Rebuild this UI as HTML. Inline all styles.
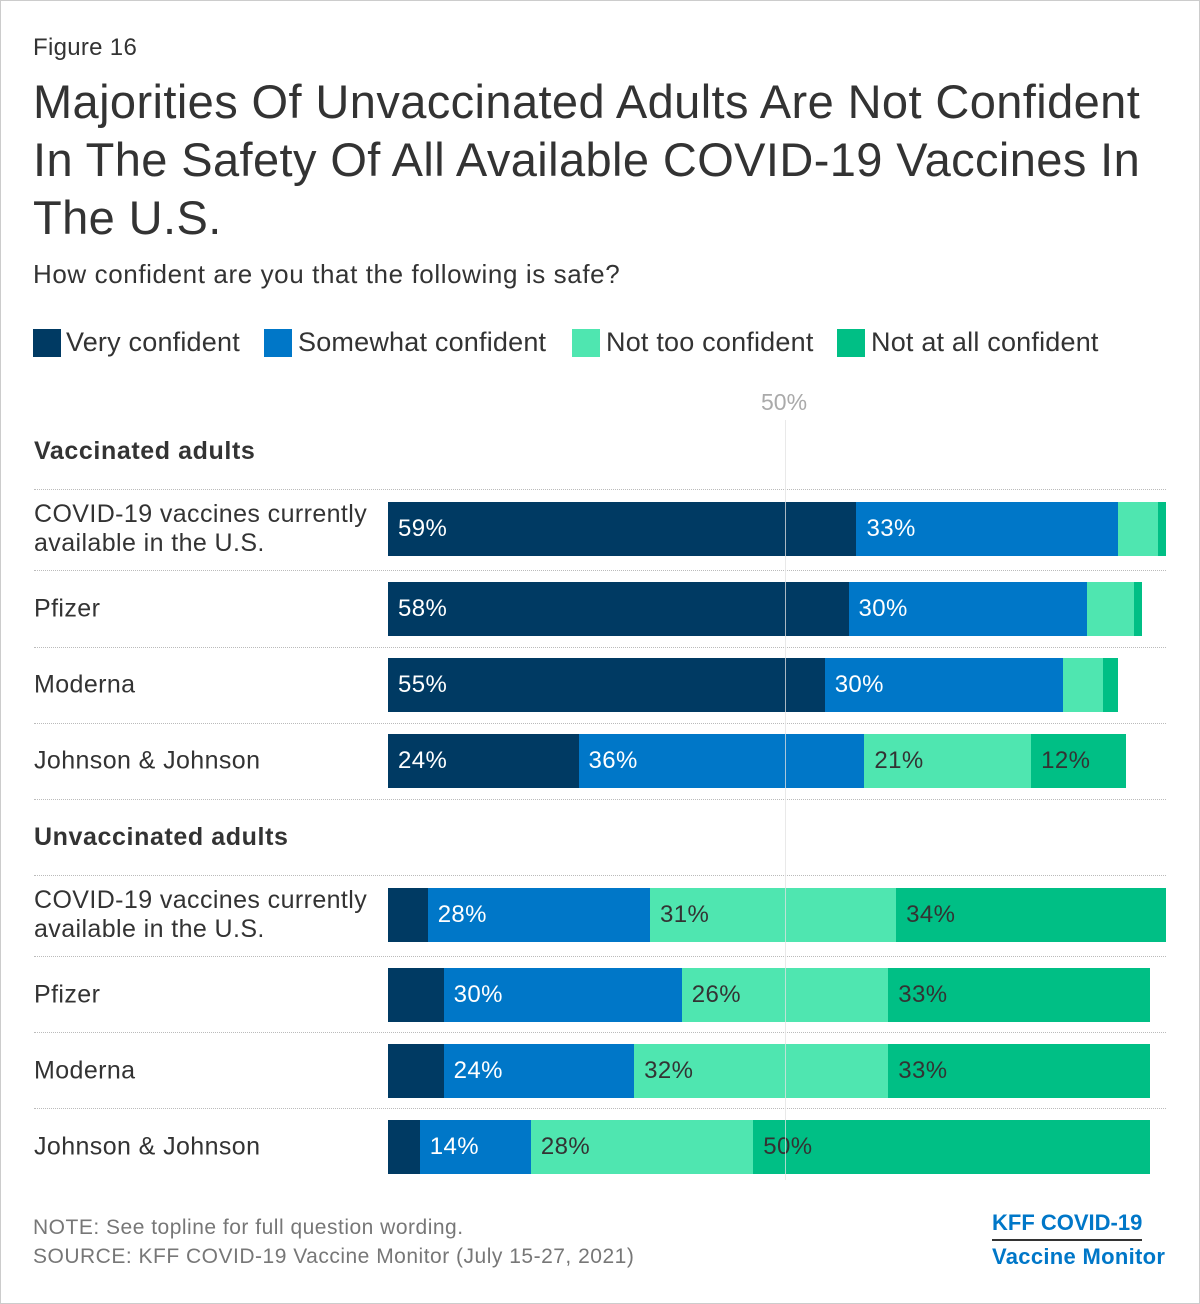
<!DOCTYPE html>
<html><head><meta charset="utf-8"><style>
body{margin:0;width:1200px;height:1304px;background:#fff;font-family:"Liberation Sans",sans-serif;position:relative;overflow:hidden}
.frame{position:absolute;left:0;top:0;width:1198px;height:1302px;border:1px solid #ccc}
.t{position:absolute;white-space:nowrap}
.sw{position:absolute;top:329px;width:28px;height:28px}
</style></head><body>
<div class="frame"></div>
<div class="t" style="left:33px;top:34px;font-size:24px;letter-spacing:0.3px;color:#333">Figure 16</div>
<div class="t" style="left:33px;top:73px;font-size:47px;letter-spacing:0.4px;line-height:58px;color:#333">Majorities Of Unvaccinated Adults Are Not Confident<br>In The Safety Of All Available COVID-19 Vaccines In<br>The U.S.</div>
<div class="t" style="left:33px;top:259px;font-size:26px;letter-spacing:0.6px;color:#333">How confident are you that the following is safe?</div>
<div id="legend">
<div class="sw" style="left:33px;background:#003a63"></div><div class="t" style="left:66px;top:327px;font-size:27px;letter-spacing:0.2px;color:#333">Very confident</div>
<div class="sw" style="left:264px;background:#0077c8"></div><div class="t" style="left:298px;top:327px;font-size:27px;letter-spacing:0.2px;color:#333">Somewhat confident</div>
<div class="sw" style="left:572px;background:#4fe6b0"></div><div class="t" style="left:606px;top:327px;font-size:27px;letter-spacing:0.2px;color:#333">Not too confident</div>
<div class="sw" style="left:837px;background:#00bf85"></div><div class="t" style="left:871px;top:327px;font-size:27px;letter-spacing:0.2px;color:#333">Not at all confident</div>
</div>
<div class="t" style="left:761px;top:389px;font-size:23px;color:#aaa">50%</div>
<div class="t" style="left:34px;top:437px;font-size:25px;letter-spacing:0.6px;font-weight:bold;color:#333">Vaccinated adults</div>
<div class="t" style="left:34px;top:823px;font-size:25px;letter-spacing:0.6px;font-weight:bold;color:#333">Unvaccinated adults</div>
<div id="chart"></div>
<div class="t" style="left:33px;top:1216px;font-size:21px;letter-spacing:0.5px;color:#777">NOTE: See topline for full question wording.</div>
<div class="t" style="left:33px;top:1245px;font-size:21px;letter-spacing:0.5px;color:#777">SOURCE: KFF COVID-19 Vaccine Monitor (July 15-27, 2021)</div>
<div class="t" style="left:992px;top:1210px;font-size:22px;font-weight:bold;color:#0077c8;border-bottom:2px solid #333;padding-bottom:3px">KFF COVID-19</div>
<div class="t" style="left:992px;top:1244px;font-size:22px;letter-spacing:0.3px;font-weight:bold;color:#0077c8">Vaccine Monitor</div>
<script>
const categories=["COVID-19 vaccines currently<br>available in the U.S.","Pfizer","Moderna","Johnson &amp; Johnson","COVID-19 vaccines currently<br>available in the U.S.","Pfizer","Moderna","Johnson &amp; Johnson"];
const veryConfident=[59,58,55,24,5,7,7,4];
const somewhatConfident=[33,30,30,36,28,30,24,14];
const notTooConfident=[5,6,5,21,31,26,32,28];
const notAtAllConfident=[1,1,2,12,34,33,33,50];
const rowTops=[502,582,658,734,888,968,1044,1120];
const colors=["#003a63","#0077c8","#4fe6b0","#00bf85"];
const series=[veryConfident,somewhatConfident,notTooConfident,notAtAllConfident];
const x0=388,unit=7.94;
function xs(v){return x0+v*unit;}
const chart=document.getElementById('chart');
let h='';
[489,570,647,723,799,875,956,1032,1108].forEach(y=>{h+=`<div style="position:absolute;left:34px;top:${y}px;width:1132px;border-top:1px dotted #bbb"></div>`;});
categories.forEach((c,i)=>{
 const top=rowTops[i];
 h+=`<div class="t" style="left:34px;top:${top+27}px;transform:translateY(-50%);font-size:25px;letter-spacing:0.4px;line-height:29px;color:#333">${c}</div>`;
 let cum=0;
 series.forEach((s,k)=>{
  const v=s[i];const l=xs(cum),w=v*unit;cum+=v;
  h+=`<div style="position:absolute;left:${l}px;top:${top}px;width:${w}px;height:54px;background:${colors[k]}">${v>=10?`<span style="position:absolute;left:10px;top:13px;font-size:24px;letter-spacing:0.4px;color:${k>=2?'#333':'#fff'};white-space:nowrap">${v}%</span>`:''}</div>`;
 });
});
h+=`<div style="position:absolute;left:${xs(50)}px;top:420px;width:1px;height:760px;background:rgba(225,225,225,0.75)"></div>`;
chart.innerHTML=h;
</script>
</body></html>
